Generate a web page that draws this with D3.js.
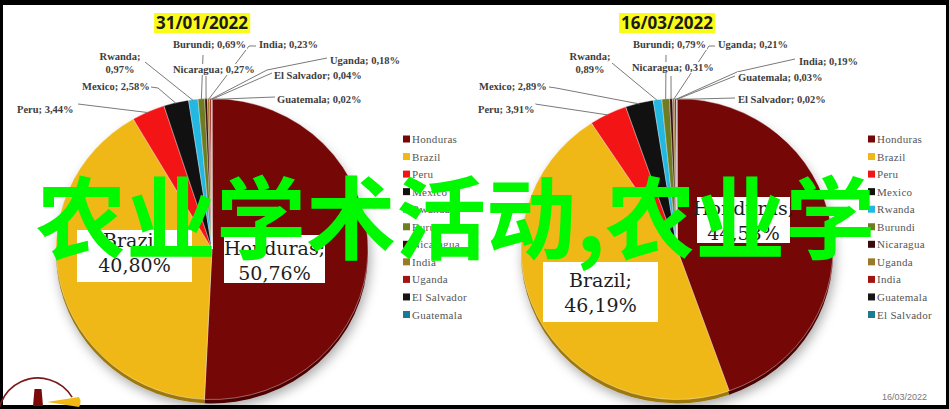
<!DOCTYPE html>
<head>
  <meta charset="utf-8">
  <script src="https://cdn.jsdelivr.net/npm/d3@7"></script>
  <style>
    body { margin:0; background:#fff; }
    svg { display:block; }
  </style>
</head>
<body>
  <svg width="949" height="409"></svg>
  <script>
    // data
    var countriesJan = ["Honduras", "Brazil", "Peru", "Mexico", "Rwanda", "Burundi", "Nicaragua", "India", "Uganda", "El Salvador", "Guatemala"];
    var sharesJan = [50.76, 40.80, 3.44, 2.58, 0.97, 0.69, 0.27, 0.23, 0.18, 0.04, 0.02];
    var countriesMar = ["Honduras", "Brazil", "Peru", "Mexico", "Rwanda", "Burundi", "Nicaragua", "Uganda", "India", "Guatemala", "El Salvador"];
    var sharesMar = [44.58, 46.19, 3.91, 2.89, 0.89, 0.79, 0.31, 0.21, 0.19, 0.03, 0.02];
    var dateTitles = ["31/01/2022", "16/03/2022"];
    var overlayText = "农业学术活动,农业学";
    var footDate = "16/03/2022";

    var sliceColors = ["#760707", "#efb816", "#f31515", "#111111", "#22b8e2", "#6e7c22",
                       "#3c0a0a", "#9a7a26", "#a21414", "#161616", "#1d7a94"];

    // placement of titles, legends, boxes and outside labels
    var panels = [
      { countries: countriesJan, shares: sharesJan, title: dateTitles[0],
        cx: 212, cy: 249, titleX: 202, legendX: 403,
        boxes: [{x: 224, y: 235, w: 101, h: 48, b1: 255}, {x: 77, y: 230, w: 115, h: 52, b1: 247}],
        labels: [null, null,
          {x: 17, y: 113, pts: [[78, 104]]},
          {x: 82, y: 90, pts: [[151, 87], [158, 88]]},
          {x: 120, y: 60, mid: true, pts: [[145, 62]]},
          {x: 173, y: 48, pts: [[203, 55]]},
          {x: 173, y: 73, pts: [[206, 76]]},
          {x: 259, y: 48, pts: [[256, 46], [249, 46]]},
          {x: 330, y: 64, pts: [[327, 58], [267, 70]]},
          {x: 274, y: 79, pts: [[272, 73]]},
          {x: 277, y: 103, pts: [[275, 97]]}
        ] },
      { countries: countriesMar, shares: sharesMar, title: dateTitles[1],
        cx: 677, cy: 249, titleX: 667, legendX: 868,
        boxes: [{x: 697, y: 197, w: 93, h: 46, b1: 215}, {x: 543, y: 262, w: 115, h: 60, b1: 287}],
        labels: [null, null,
          {x: 478, y: 113, pts: [[535, 104]]},
          {x: 479, y: 90, pts: [[549, 87], [556, 88]]},
          {x: 590, y: 60, mid: true, pts: [[612, 63]]},
          {x: 633, y: 48, pts: [[666, 55]]},
          {x: 632, y: 71, pts: [[671, 76]]},
          {x: 718, y: 48, pts: [[715, 46], [709, 46]]},
          {x: 799, y: 65, pts: [[795, 59], [737, 72]]},
          {x: 738, y: 81, pts: [[735, 76]]},
          {x: 738, y: 103, pts: [[735, 98]]}
        ] }
    ];

    var svg = d3.select("svg");
    var W = 949, H = 409;
    var R = 156, SY = 0.965;

    // frame
    svg.append("rect").attr("width", W).attr("height", H).attr("fill", "#000");
    svg.append("rect").attr("x", 3).attr("y", 5).attr("width", W - 6).attr("height", H - 9).attr("fill", "#fff");

    var defs = svg.append("defs");
    var f = defs.append("filter").attr("id", "shadow").attr("x", "-20%").attr("y", "-20%").attr("width", "140%").attr("height", "140%");
    f.append("feDropShadow").attr("dx", 2).attr("dy", 4).attr("stdDeviation", 6)
      .attr("flood-color", "#000").attr("flood-opacity", 0.35);

    var pie = d3.pie().sort(null).value(function (d) { return d; });
    var arc = d3.arc().innerRadius(0).outerRadius(R);
    var edge = d3.arc().innerRadius(R).outerRadius(R);
    var fmt = function (v) { return d3.format(".2f")(v).replace(".", ",") + "%"; };

    panels.forEach(function (p) {
      var arcs = pie(p.shares);

      // title
      var tg = svg.append("g");
      var tt = tg.append("text").attr("x", p.titleX).attr("y", 29)
        .attr("text-anchor", "middle")
        .style("font-family", "'Open Sans', sans-serif").style("font-weight", 700)
        .style("font-size", "17px").attr("fill", "#1a1a1a").text(p.title);
      var tb = tt.node().getBBox();
      tg.insert("rect", "text").attr("x", tb.x - 2).attr("y", 13).attr("width", tb.width + 4).attr("height", 20)
        .attr("fill", "#fbfb18");

      // pie with a darker side and soft shadow
      var g = svg.append("g")
        .attr("transform", "translate(" + p.cx + "," + p.cy + ") scale(1," + SY + ")");
      var side = g.append("g").attr("transform", "translate(0,4)").attr("filter", "url(#shadow)");
      side.selectAll("path").data(arcs).enter().append("path")
        .attr("d", arc)
        .attr("fill", function (d, i) { return d3.color(sliceColors[i]).darker(1.2); });
      g.append("g").selectAll("path").data(arcs).enter().append("path")
        .attr("d", arc)
        .attr("fill", function (d, i) { return sliceColors[i]; })
        .attr("stroke", "rgba(255,255,255,0.55)").attr("stroke-width", 0.7);

      // leader lines
      var lab = svg.append("g");
      arcs.forEach(function (d, i) {
        var L = p.labels[i];
        if (!L) return;
        var c = edge.centroid(d);
        var end = [p.cx + c[0], p.cy + c[1] * SY + 1];
        lab.append("path")
          .attr("d", d3.line()(L.pts.concat([end])))
          .attr("fill", "none").attr("stroke", "#7a7a7a").attr("stroke-width", 1);
      });

      // outside labels with a white ground
      arcs.forEach(function (d, i) {
        var L = p.labels[i];
        if (!L) return;
        var name = p.countries[i], val = fmt(p.shares[i]);
        var lg = lab.append("g");
        var t = lg.append("text")
          .attr("x", L.x).attr("y", L.y)
          .attr("text-anchor", L.mid ? "middle" : "start")
          .style("font-family", "'Liberation Serif', serif").style("font-weight", 700)
          .style("font-size", "10.5px").attr("fill", "#3d3d3d");
        if (L.mid) {
          t.append("tspan").attr("x", L.x).text(name + ";");
          t.append("tspan").attr("x", L.x).attr("dy", 12.5).text(val);
        } else {
          t.text(name + "; " + val);
        }
        var b = t.node().getBBox();
        lg.insert("rect", "text").attr("x", b.x - 1).attr("y", b.y).attr("width", b.width + 2).attr("height", b.height)
          .attr("fill", "#fff");
      });

      // boxed labels for the two big slices
      p.boxes.forEach(function (bx, i) {
        var bg = svg.append("g");
        bg.append("rect").attr("x", bx.x).attr("y", bx.y).attr("width", bx.w).attr("height", bx.h)
          .attr("fill", "#fff");
        var t = bg.append("text").attr("text-anchor", "middle")
          .style("font-family", "'DejaVu Serif', serif").style("font-size", "19px").attr("fill", "#1e1e1e");
        t.append("tspan").attr("x", bx.x + bx.w / 2).attr("y", bx.b1).text(p.countries[i] + ";");
        t.append("tspan").attr("x", bx.x + bx.w / 2).attr("y", bx.b1 + 25).text(fmt(p.shares[i]));
      });

      // legend
      var lgd = svg.append("g");
      p.countries.forEach(function (name, i) {
        var y = 143 + i * 17.55;
        lgd.append("rect").attr("x", p.legendX).attr("y", y - 7.5).attr("width", 7).attr("height", 7)
          .attr("fill", sliceColors[i]);
        lgd.append("text").attr("x", p.legendX + 9).attr("y", y)
          .style("font-family", "'Liberation Serif', serif").style("font-size", "11px")
          .style("letter-spacing", "0.3px").attr("fill", "#555").text(name);
      });
    });

    // little logo bottom-left
    var logo = svg.append("g");
    logo.append("path")
      .attr("d", d3.arc().innerRadius(40).outerRadius(40).startAngle(-1.9).endAngle(1.02)())
      .attr("transform", "translate(38,418)")
      .attr("fill", "none").attr("stroke", "#7a1a1a").attr("stroke-width", 1.6);
    logo.append("path").attr("d", "M34.5,389 L41.5,389 L43,406 L33,406 Z").attr("fill", "#7a0a0a");
    logo.append("path").attr("d", "M47,402 L79,397 Q82,402 79,407 Z").attr("fill", "#f0b914");

    // date footnote
    svg.append("text").attr("x", 882).attr("y", 400)
      .style("font-family", "'Liberation Sans', sans-serif").style("font-size", "9px")
      .attr("fill", "#777").text(footDate);

    // big green overlay caption
    svg.append("text").attr("x", 36).attr("y", 252)
      .style("font-family", "'Noto Sans CJK SC', sans-serif").style("font-weight", 700)
      .style("font-size", "90px").attr("fill", "#00f900").text(overlayText);
  </script>
</body>
